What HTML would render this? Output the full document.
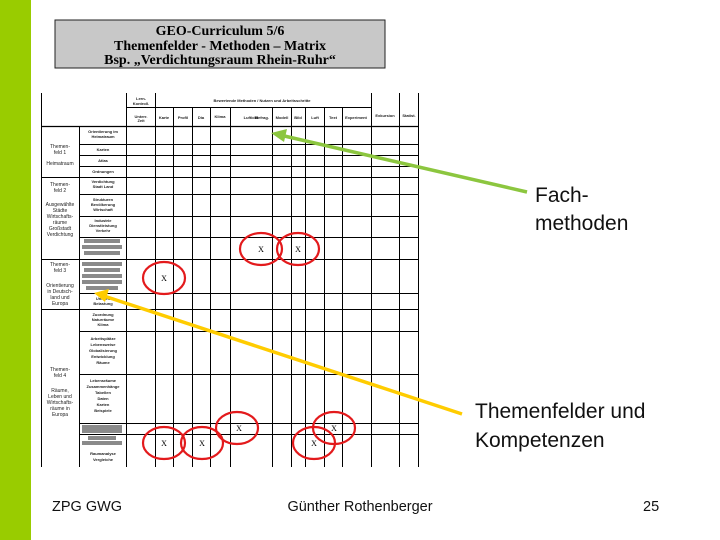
<!DOCTYPE html>
<html><head><meta charset="utf-8"><style>
html,body{margin:0;padding:0;background:#fff;}
svg{display:block;}
</style></head><body>
<svg width="720" height="540" viewBox="0 0 720 540" xmlns="http://www.w3.org/2000/svg">
<rect x="0" y="0" width="31" height="540" fill="#99cc00"/>
<rect x="55" y="20" width="330" height="48" fill="#c8c8c8" stroke="#222" stroke-width="1"/>
<g font-family="Liberation Serif, serif" font-weight="bold" font-size="14" text-anchor="middle" fill="#000">
<text x="220" y="35">GEO-Curriculum 5/6</text>
<text x="220" y="50">Themenfelder - Methoden – Matrix</text>
<text x="220" y="64">Bsp. „Verdichtungsraum Rhein-Ruhr“</text>
</g>
<g fill="#8a8a8a">
<rect x="84" y="239" width="36" height="4"/><rect x="82" y="245" width="40" height="4"/><rect x="84" y="251" width="36" height="4"/>
<rect x="82" y="262" width="40" height="4"/><rect x="84" y="268" width="36" height="4"/><rect x="82" y="274" width="40" height="4"/><rect x="82" y="280" width="40" height="4"/><rect x="86" y="286" width="32" height="4"/>
<rect x="82" y="425" width="40" height="8"/>
<rect x="88" y="436" width="28" height="4"/><rect x="82" y="441" width="40" height="4"/>
</g>
<g stroke="#000" stroke-width="1" fill="none">
<line x1="41.5" y1="93" x2="41.5" y2="467"/>
<line x1="79.5" y1="126" x2="79.5" y2="467"/>
<line x1="126.5" y1="93" x2="126.5" y2="467"/>
<line x1="155.5" y1="93" x2="155.5" y2="467"/>
<line x1="173.5" y1="107" x2="173.5" y2="467"/>
<line x1="192.5" y1="107" x2="192.5" y2="467"/>
<line x1="210.5" y1="107" x2="210.5" y2="467"/>
<line x1="230.5" y1="107" x2="230.5" y2="467"/>
<line x1="272.5" y1="107" x2="272.5" y2="467"/>
<line x1="291.5" y1="107" x2="291.5" y2="467"/>
<line x1="305.5" y1="107" x2="305.5" y2="467"/>
<line x1="324.5" y1="107" x2="324.5" y2="467"/>
<line x1="342.5" y1="107" x2="342.5" y2="467"/>
<line x1="371.5" y1="93" x2="371.5" y2="467"/>
<line x1="399.5" y1="93" x2="399.5" y2="467"/>
<line x1="418.5" y1="93" x2="418.5" y2="467"/>
<line x1="126" y1="107.5" x2="371" y2="107.5"/>
<line x1="41" y1="126.5" x2="419" y2="126.5" stroke-width="1.3"/>
<line x1="79" y1="144.5" x2="419" y2="144.5"/>
<line x1="79" y1="155.5" x2="419" y2="155.5"/>
<line x1="79" y1="166.5" x2="419" y2="166.5"/>
<line x1="41" y1="177.5" x2="419" y2="177.5"/>
<line x1="79" y1="194.5" x2="419" y2="194.5"/>
<line x1="79" y1="216.5" x2="419" y2="216.5"/>
<line x1="79" y1="237.5" x2="419" y2="237.5"/>
<line x1="41" y1="259.5" x2="419" y2="259.5"/>
<line x1="79" y1="293.5" x2="419" y2="293.5"/>
<line x1="41" y1="309.5" x2="419" y2="309.5"/>
<line x1="79" y1="331.5" x2="419" y2="331.5"/>
<line x1="79" y1="374.5" x2="419" y2="374.5"/>
<line x1="79" y1="423.5" x2="419" y2="423.5"/>
<line x1="79" y1="434.5" x2="419" y2="434.5"/>
</g>
<g font-family="Liberation Sans, sans-serif" font-size="4" fill="#222" text-anchor="middle" font-weight="bold">
<text x="141" y="100">Lern-</text><text x="141" y="105">Kontroll.</text>
<text x="141" y="118">Unterr.</text><text x="141" y="122">Zeit</text>
<text x="262" y="102">Bewertende Methoden / Nutzen und Arbeitsschritte</text>
<text x="164" y="119">Karte</text><text x="183" y="119">Profil</text><text x="201" y="119">Dia</text>
<text x="220" y="118">Klima</text><text x="251" y="119">Luftbild</text><text x="262" y="119">Befrag.</text>
<text x="282" y="119">Modell</text><text x="298" y="119">Bild</text><text x="315" y="119">Luft</text>
<text x="333" y="119">Text</text><text x="356" y="119">Experiment</text>
<text x="385" y="117">Exkursion</text><text x="409" y="117">Statist.</text>
<text x="103" y="133">Orientierung im</text><text x="103" y="138">Heimatraum</text>
<text x="103" y="151">Karten</text><text x="103" y="162">Atlas</text><text x="103" y="173">Ordnungen</text>
<text x="103" y="183">Verdichtung</text><text x="103" y="188">Stadt Land</text>
<text x="103" y="201">Strukturen</text><text x="103" y="206">Bevölkerung</text><text x="103" y="211">Wirtschaft</text>
<text x="103" y="222">Industrie</text><text x="103" y="227">Dienstleistung</text><text x="103" y="232">Verkehr</text>
<text x="103" y="300">Umwelt</text><text x="103" y="305">Belastung</text>
<text x="103" y="316">Zuordnung</text><text x="103" y="321">Naturräume</text><text x="103" y="326">Klima</text>
<text x="103" y="340">Arbeitsplätze</text><text x="103" y="346">Lebensweise</text><text x="103" y="352">Globalisierung</text><text x="103" y="358">Entwicklung</text><text x="103" y="364">Räume</text>
<text x="103" y="382">Lebensräume</text><text x="103" y="388">Zusammenhänge</text><text x="103" y="394">Tabellen</text><text x="103" y="400">Daten</text><text x="103" y="406">Karten</text><text x="103" y="412">Beispiele</text>
<text x="103" y="455">Raumanalyse</text><text x="103" y="461">Vergleiche</text>
</g>
<g font-family="Liberation Sans, sans-serif" font-size="5" fill="#222" text-anchor="middle">
<text x="60" y="148">Themen-</text><text x="60" y="154">feld 1</text><text x="60" y="165">Heimatraum</text>
<text x="60" y="186">Themen-</text><text x="60" y="192">feld 2</text>
<text x="60" y="206">Ausgewählte</text><text x="60" y="212">Städte</text><text x="60" y="218">Wirtschafts-</text><text x="60" y="224">räume</text><text x="60" y="230">Großstadt</text><text x="60" y="236">Verdichtung</text>
<text x="60" y="266">Themen-</text><text x="60" y="272">feld 3</text>
<text x="60" y="287">Orientierung</text><text x="60" y="293">in Deutsch-</text><text x="60" y="299">land und</text><text x="60" y="305">Europa</text>
<text x="60" y="371">Themen-</text><text x="60" y="377">feld 4</text>
<text x="60" y="392">Räume,</text><text x="60" y="398">Leben und</text><text x="60" y="404">Wirtschafts-</text><text x="60" y="410">räume in</text><text x="60" y="416">Europa</text>
</g>
<g font-family="Liberation Serif, serif" font-size="8" fill="#000" text-anchor="middle">
<text x="261" y="252">X</text><text x="298" y="252">X</text><text x="164" y="281">X</text>
<text x="164" y="446">X</text><text x="202" y="446">X</text><text x="239" y="431">X</text>
<text x="314" y="446">X</text><text x="334" y="431">X</text>
</g>
<g fill="none" stroke="#e31a1c" stroke-width="2.2">
<ellipse cx="261" cy="249" rx="21" ry="16"/>
<ellipse cx="298" cy="249" rx="21" ry="16"/>
<ellipse cx="164" cy="278" rx="21" ry="16"/>
<ellipse cx="164" cy="443" rx="21" ry="16"/>
<ellipse cx="202" cy="443" rx="21" ry="16"/>
<ellipse cx="237" cy="428" rx="21" ry="16"/>
<ellipse cx="314" cy="443" rx="21" ry="16"/>
<ellipse cx="334" cy="428" rx="21" ry="16"/>
</g>
<line x1="527" y1="192" x2="280" y2="135" stroke="#8cc63f" stroke-width="3.5"/>
<polygon points="271,133 287,129 284,142" fill="#8cc63f"/>
<line x1="462" y1="414" x2="104" y2="296" stroke="#ffcc00" stroke-width="3.5"/>
<polygon points="94,293 109,289 105,302" fill="#ffcc00"/>
<g font-family="Liberation Sans, sans-serif" font-size="21" fill="#111">
<text x="535" y="202">Fach-</text>
<text x="535" y="230">methoden</text>
<text x="475" y="418">Themenfelder und</text>
<text x="475" y="447">Kompetenzen</text>
</g>
<g font-family="Liberation Sans, sans-serif" font-size="14.5" fill="#111">
<text x="52" y="511">ZPG GWG</text>
<text x="360" y="511" text-anchor="middle">Günther Rothenberger</text>
<text x="643" y="511">25</text>
</g>
</svg>
</body></html>
